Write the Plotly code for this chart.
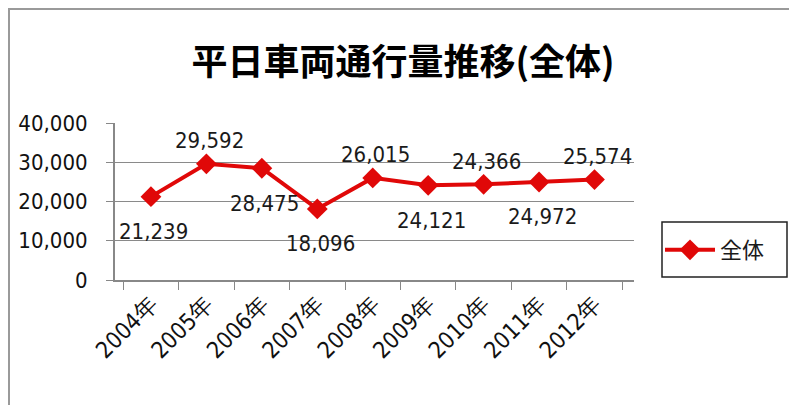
import plotly.graph_objects as go

years = ["2004年", "2005年", "2006年", "2007年", "2008年", "2009年", "2010年", "2011年", "2012年"]
values = [21239, 29592, 28475, 18096, 26015, 24121, 24366, 24972, 25574]
label_side = ["below", "above", "below", "below", "above", "below", "above", "below", "above"]
series_name = "全体"
title_text = "平日車両通行量推移(全体)"
y_ticks = [0, 10000, 20000, 30000, 40000]

RED = "#E00808"
NUM_FONT = "DejaVu Sans Condensed, Liberation Sans Narrow, sans-serif"
CJK_FONT = "Noto Sans CJK JP, sans-serif"

# page body has an 8px margin; figure pixel coords = screen coords - 8
OFF = 8
L, T, PW, PH = 115 - OFF, 123 - OFF, 519, 157
W, H = 797, 405


def px(xs):
    return (xs - OFF - L) / PW


def py(ys):
    return (T + PH - (ys - OFF)) / PH


fig = go.Figure()
fig.add_trace(go.Scatter(
    x=years, y=values, mode="lines+markers", name=series_name,
    line=dict(color=RED, width=4),
    marker=dict(symbol="diamond", size=16, color=RED),
))

for yr, v, side in zip(years, values, label_side):
    fig.add_annotation(
        x=yr, y=v, xref="x", yref="y", text=f"{v:,}", showarrow=False,
        yshift=(23 if side == "above" else -35), xshift=3,
        font=dict(family=NUM_FONT, size=22, color="#1a1a1a"),
    )

# outer chart frame (left and top edges visible)
fig.add_shape(type="rect", xref="paper", yref="paper",
              x0=px(9), x1=px(840), y0=py(440), y1=py(9),
              line=dict(color="#9a9a9a", width=2), fillcolor="rgba(0,0,0,0)", layer="below")
# legend box
fig.add_shape(type="rect", xref="paper", yref="paper",
              x0=px(662), x1=px(787), y0=py(277), y1=py(222),
              line=dict(color="#222", width=1.5), fillcolor="white")

fig.update_layout(
    width=W, height=H,
    margin=dict(l=L, r=W - L - PW, t=T, b=H - T - PH, autoexpand=False),
    paper_bgcolor="white", plot_bgcolor="white",
    title=dict(text=f"<b>{title_text}</b>", x=(403 - OFF) / W, xanchor="center",
               y=1 - (62 - OFF) / H, yanchor="middle",
               font=dict(family=CJK_FONT, size=36, color="#000")),
    showlegend=True,
    legend=dict(x=px(660), xanchor="left", y=py(250), yanchor="middle",
                bgcolor="rgba(0,0,0,0)", borderwidth=0, itemwidth=50,
                font=dict(family=CJK_FONT, size=22, color="#1a1a1a")),
    xaxis=dict(
        type="category", tickangle=-45, tickson="boundaries",
        ticks="outside", ticklen=8, tickcolor="#888", automargin=False,
        showline=True, linecolor="#888", linewidth=2,
        showgrid=False, zeroline=False,
        tickfont=dict(family=NUM_FONT, size=23, color="#111"),
    ),
    yaxis=dict(
        range=[0, 40000], tickvals=y_ticks, tickformat=",",
        ticks="outside", ticklen=7, tickcolor="#888", automargin=False,
        ticklabelstandoff=14,
        showline=True, linecolor="#888", linewidth=2,
        showgrid=True, gridcolor="#8a8a8a", gridwidth=1,
        zeroline=False,
        tickfont=dict(family=NUM_FONT, size=22, color="#111"),
    ),
)

fig.write_html("out.html")
